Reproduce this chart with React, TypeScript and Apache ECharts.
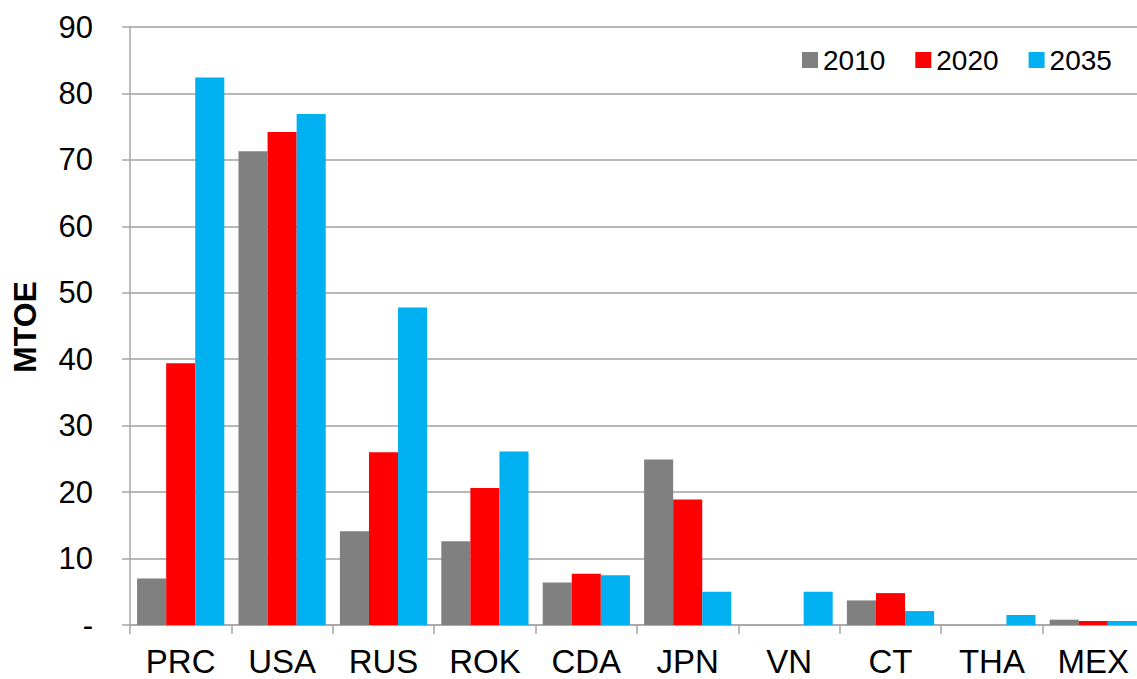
import React, { useEffect, useRef } from "react";
import * as echarts from "echarts";

const categories = ["PRC", "USA", "RUS", "ROK", "CDA", "JPN", "VN", "CT", "THA", "MEX"];
const seriesNames = ["2010", "2020", "2035"];
const values2010 = [7.0, 71.3, 14.1, 12.6, 6.4, 24.9, 0, 3.7, 0, 0.8];
const values2020 = [39.4, 74.2, 26.0, 20.6, 7.7, 18.9, 0, 4.8, 0, 0.6];
const values2035 = [82.4, 76.9, 47.8, 26.1, 7.5, 5.0, 5.0, 2.1, 1.5, 0.6];
const colors = ["#808080", "#FF0000", "#00B0F0"];
const yMin = 0;
const yMax = 90;
const yInterval = 10;

export default function App() {
  const ref = useRef<HTMLDivElement>(null);
  useEffect(() => {
    if (!ref.current) return;
    const chart = echarts.init(ref.current, undefined, { renderer: "svg" });
    const font = "Liberation Sans, Arial, sans-serif";
    const data = [values2010, values2020, values2035];
    chart.setOption({
      animation: false,
      backgroundColor: "#ffffff",
      grid: { left: 130, right: 0, top: 27, bottom: 54 },
      legend: {
        left: 802,
        top: 46,
        padding: 0,
        itemWidth: 16,
        itemHeight: 16,
        itemGap: 30,
        icon: "rect",
        data: seriesNames,
        textStyle: { fontFamily: font, fontSize: 28, color: "#000" },
      },
      xAxis: {
        type: "category",
        data: categories,
        boundaryGap: true,
        axisLine: { lineStyle: { color: "#a6a6a6", width: 1.5 } },
        axisTick: { show: true, length: 9, alignWithLabel: false, lineStyle: { color: "#a6a6a6", width: 1.5 } },
        axisLabel: { fontFamily: font, fontSize: 33, color: "#000", margin: 20, interval: 0 },
        splitLine: { show: false },
      },
      yAxis: {
        type: "value",
        min: yMin,
        max: yMax,
        interval: yInterval,
        axisLine: { show: true, lineStyle: { color: "#a6a6a6", width: 1.5 } },
        axisTick: { show: true, length: 8, lineStyle: { color: "#a6a6a6", width: 1.5 } },
        axisLabel: {
          fontFamily: font,
          fontSize: 31,
          color: "#000",
          margin: 37,
          formatter: (v: number) => (v === 0 ? "-" : String(v)),
        },
        splitLine: { show: true, lineStyle: { color: "#a0a0a0", width: 1.5 } },
      },
      graphic: [
        {
          type: "text",
          x: 25,
          y: 327,
          rotation: Math.PI / 2,
          style: {
            text: "MTOE",
            fontFamily: font,
            fontSize: 32,
            fontWeight: "bold",
            fill: "#000",
            align: "center",
            verticalAlign: "middle",
          },
        },
      ],
      series: seriesNames.map((name, i) => ({
        name,
        type: "bar",
        data: data[i],
        barGap: "0%",
        barCategoryGap: "14%",
        itemStyle: { color: colors[i] },
      })),
    });
    return () => chart.dispose();
  }, []);
  return (
    <div
      style={{ position: "fixed", left: 0, top: 0, width: 1137, height: 679, overflow: "hidden", background: "#fff" }}
    >
      <div ref={ref} style={{ width: 1144, height: 679 }} />
    </div>
  );
}
